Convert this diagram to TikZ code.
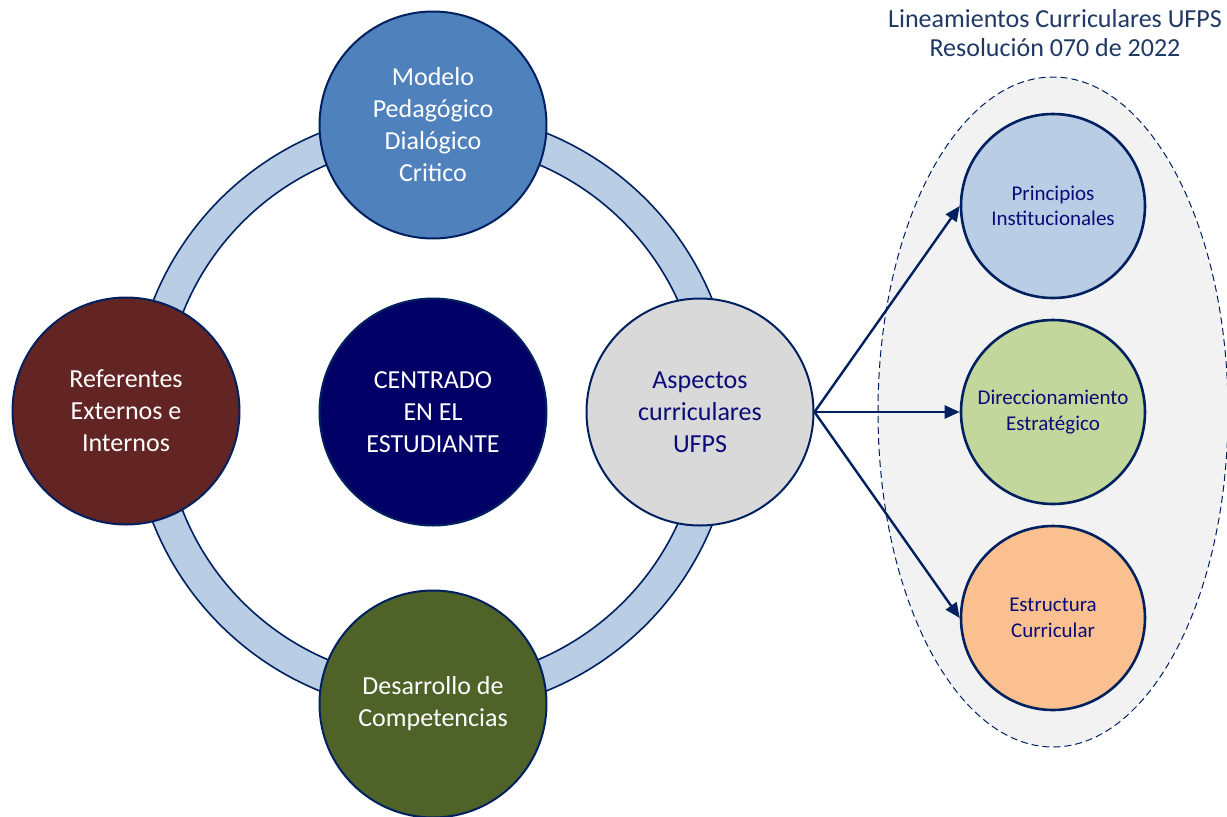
\documentclass[tikz,border=0pt]{standalone}
\usepackage{fontspec}
\setmainfont{Carlito}
\usetikzlibrary{arrows.meta}

\definecolor{borde}{HTML}{002060}
\definecolor{anillo}{HTML}{B9CDE5}
\definecolor{azulmodelo}{HTML}{4F81BD}
\definecolor{rojoref}{HTML}{632523}
\definecolor{azulcentro}{HTML}{000066}
\definecolor{grisasp}{HTML}{D9D9D9}
\definecolor{verdedes}{HTML}{4F6228}
\definecolor{verdedir}{HTML}{C3D69B}
\definecolor{naranjaest}{HTML}{FAC090}
\definecolor{grisfondo}{HTML}{F2F2F2}
\definecolor{textoazul}{HTML}{0A0A78}
\definecolor{titulo}{HTML}{1F3864}

\begin{document}
\begin{tikzpicture}[x=1pt,y=-1pt,>={Triangle[length=15pt,width=13pt]},node distance=206pt,
  big node/.style={circle,draw=borde,line width=2pt,minimum size=227pt,inner sep=0pt,align=center,font=\fontsize{26}{32}\selectfont,text=white},
  small node/.style={circle,draw=borde,line width=2.6pt,minimum size=184pt,inner sep=0pt,align=center,font=\fontsize{21}{25.5}\selectfont,text=textoazul}]

            \useasboundingbox (0,0) rectangle (1227,817);

            % fondo de los lineamientos
            \draw[fill=grisfondo, draw=borde, line width=1pt, dash pattern=on 7pt off 4pt] (1053,412) ellipse (175pt and 335pt);
            \node[font=\fontsize{26}{29}\selectfont, text=titulo, align=center, inner sep=0pt] (titulo) at (1055,33) {Lineamientos Curriculares UFPS\\Resolución 070 de 2022};

            % anillo
            \fill[anillo, even odd rule] (433,412) circle (301pt) (433,412) circle (269pt);
            \draw[borde, line width=1.6pt] (433,412) circle (301pt) (433,412) circle (269pt);

            \node[big node, fill=azulcentro] (centro) at (433,412) {CENTRADO\\EN EL\\ESTUDIANTE};
            \node[big node, fill=azulmodelo] (modelo) at (433,125) {Modelo\\Pedagógico\\Dialógico\\Critico};
            \node[big node, fill=rojoref] (referentes) at (126,411) {Referentes\\Externos e\\Internos};
            \node[big node, fill=grisasp, text=textoazul] (aspectos) at (700,412) {Aspectos\\curriculares\\UFPS};
            \node[big node, fill=verdedes] (desarrollo) at (433,704) {Desarrollo de\\Competencias};

            \node[small node, fill=verdedir] (direccionamiento) at (1053,412) {Direccionamiento\\Estratégico};
            \node[small node, fill=anillo] (principios) [above of = direccionamiento] {Principios\\Institucionales};
            \node[small node, fill=naranjaest] (estructura) [below of = direccionamiento] {Estructura\\Curricular};

            \draw[->, borde, line width=2.4pt] (aspectos.east) to (principios.west);
            \draw[->, borde, line width=2.4pt] (aspectos.east) to (direccionamiento.west);
            \draw[->, borde, line width=2.4pt] (aspectos.east) to (estructura.west);

\end{tikzpicture}
\end{document}
